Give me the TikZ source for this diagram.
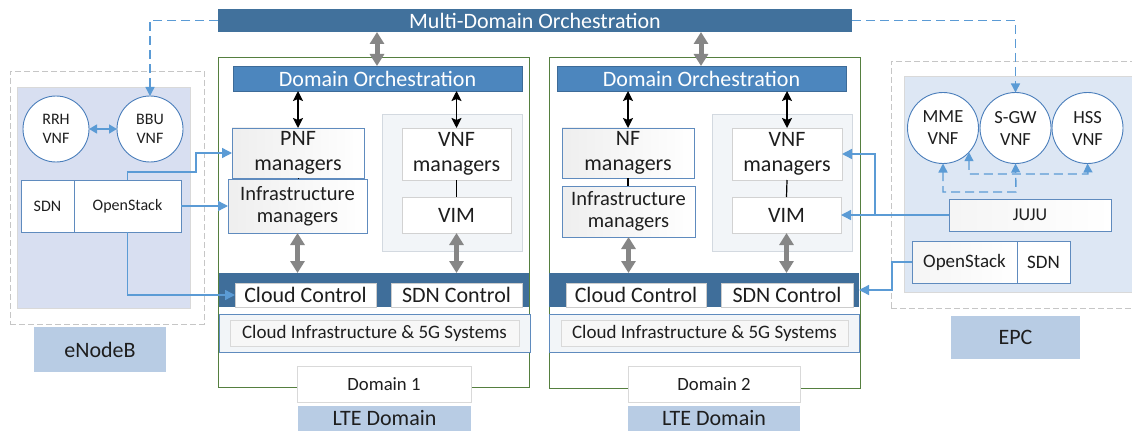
\documentclass[tikz,border=0pt]{standalone}
\usepackage{fontspec}
\setmainfont{Carlito}
\usetikzlibrary{arrows.meta}
\definecolor{mdark}{HTML}{41719C}
\definecolor{orchc}{HTML}{4C86BE}
\definecolor{ctrlc}{HTML}{3F6E9A}
\definecolor{lblc}{HTML}{B8CCE4}
\definecolor{enbc}{HTML}{D8DFF1}
\definecolor{epcc}{HTML}{DDE7F4}
\definecolor{lblue}{HTML}{5B9BD5}
\definecolor{bbord}{HTML}{5F8BBE}
\definecolor{panelc}{HTML}{F2F5F8}
\definecolor{panelb}{HTML}{D3D9E0}
\definecolor{greenb}{HTML}{557F3F}
\definecolor{circb}{HTML}{4A7EBB}
\definecolor{txt}{HTML}{1E1E1E}
\newcommand{\fs}[2]{\fontsize{#1}{#2}\selectfont}
\begin{document}
\begin{tikzpicture}[x=1pt,y=-1pt,
  base/.style={inner sep=0pt,outer sep=0pt,align=center,text=txt},
  bluebar/.style={base,fill=mdark,text=white,font=\fs{22}{25}},
  orchbar/.style={base,fill=orchc,draw=orchc!80!black,line width=0.4pt,text=white,font=\fs{22}{25}},
  ctrlbar/.style={base,fill=ctrlc},
  mgr/.style={base,draw=bbord,line width=0.9pt,left color=gray!13,right color=white,font=\fs{22}{25}},
  wbox/.style={base,draw=gray!35,line width=0.8pt,fill=white,font=\fs{22}{25}},
  panelbox/.style={base,draw=panelb,line width=0.8pt,fill=panelc},
  lblbox/.style={base,fill=lblc,font=\fs{22}{25}},
  greenbox/.style={base,draw=greenb,line width=0.8pt},
  vnfc/.style={base,circle,draw=circb,line width=0.9pt,fill=white},
  stackbox/.style={base,draw=bbord,line width=0.9pt,fill=white},
  grayarr/.style={draw=gray!95,line width=5pt,{Triangle[width=14pt,length=12pt]}-{Triangle[width=14pt,length=12pt]}},
  blackarr/.style={draw=black,line width=1.6pt,{Stealth[width=10pt,length=10pt,inset=2pt]}-{Stealth[width=10pt,length=10pt,inset=2pt]}},
  blueconn/.style={draw=lblue,line width=1.4pt,-{Triangle[width=10pt,length=10pt]}},
  dashconn/.style={draw=lblue,line width=1.4pt,dash pattern=on 9pt off 5pt},
  dashtip/.style={-{Triangle[width=9pt,length=9pt]}},
  greydash/.style={draw=gray!45,line width=0.9pt,dash pattern=on 6pt off 3pt}
]
\clip (0,0) rectangle (1132,433);
\fill[white] (0,0) rectangle (1132,433);

% ---------- backgrounds ----------
\node[base,greydash,minimum width=194pt,minimum height=253pt] (enbout) at (107,197.5) {};
\node[base,fill=enbc,draw=gray!30,line width=0.6pt,minimum width=173pt,minimum height=221pt] (enbin) at (103.5,197.5) {};
\node[base,greydash,minimum width=260pt,minimum height=247pt] (epcout) at (1021,184.5) {};
\node[base,fill=epcc,draw=gray!30,line width=0.6pt,minimum width=240pt,minimum height=216pt] (epcin) at (1024,184) {};
\node[greenbox,minimum width=311pt,minimum height=330pt] (dom1) at (373.5,222) {};
\node[greenbox,minimum width=311pt,minimum height=331pt] (dom2) at (704.5,222.5) {};
\node[panelbox,minimum width=140pt,minimum height=137pt] (panel1) at (452,182.5) {};
\node[panelbox,minimum width=140pt,minimum height=137pt] (panel2) at (782,182.5) {};

% ---------- top bar ----------
\node[bluebar,minimum width=634pt,minimum height=23pt] (multi) at (535,20.5) {Multi-Domain Orchestration};

% ---------- eNodeB ----------
\node[vnfc,minimum size=66pt,font=\fs{16}{19}] (rrh) at (56,129) {RRH\\VNF};
\node[vnfc,minimum size=66pt,font=\fs{16}{19}] (bbu) at (150,129) {BBU\\VNF};
\node[stackbox,minimum width=53pt,minimum height=52pt,font=\fs{16}{19}] (sdnE) at (47.5,206) {SDN};
\node[stackbox,minimum width=107pt,minimum height=52pt,font=\fs{16}{19}] (osE) at (127.5,206) {OpenStack};
\node[lblbox,minimum width=132pt,minimum height=45pt] (enblbl) at (100,349.5) {eNodeB};

% ---------- Domain 1 ----------
\node[orchbar,minimum width=289pt,minimum height=25pt] (orch1) at (377.5,78.5) {Domain Orchestration};
\node[mgr,minimum width=132pt,minimum height=50pt] (pnf) at (298,153) {PNF\\managers};
\node[mgr,minimum width=139pt,minimum height=54pt,font=\fs{20.5}{22}] (infra1) at (297.5,206) {Infrastructure\\managers};
\node[wbox,minimum width=109pt,minimum height=52pt] (vnf1) at (456.5,154) {VNF\\managers};
\node[wbox,minimum width=109pt,minimum height=36pt] (vim1) at (456.5,215) {VIM};
\node[ctrlbar,minimum width=310pt,minimum height=34pt] (ctrl1) at (374,290) {};
\node[wbox,draw=gray!40,minimum width=141pt,minimum height=24pt] (cc1) at (305.5,295) {Cloud Control};
\node[wbox,draw=gray!40,minimum width=131pt,minimum height=24pt] (sc1) at (456.5,295) {SDN Control};
\node[base,draw=bbord,line width=0.8pt,fill=panelc,minimum width=311pt,minimum height=38pt] (ciout1) at (374.5,333) {};
\node[base,draw=gray!30,line width=0.8pt,fill=gray!6,minimum width=289pt,minimum height=26pt,font=\fs{19}{22}] (ciin1) at (374.5,333) {Cloud Infrastructure \& 5G Systems};
\node[wbox,draw=gray!30,minimum width=174pt,minimum height=36pt,font=\fs{18.7}{22}] (d1lbl) at (384,384) {Domain 1};
\node[lblbox,minimum width=173pt,minimum height=25pt] (lte1) at (384.5,418.5) {LTE Domain};

% ---------- Domain 2 ----------
\node[orchbar,minimum width=289pt,minimum height=25pt] (orch2) at (701.5,78.5) {Domain Orchestration};
\node[mgr,minimum width=132pt,minimum height=50pt] (nf) at (628,153) {NF\\managers};
\node[mgr,minimum width=133pt,minimum height=51pt,font=\fs{20.5}{22}] (infra2) at (628.5,211.5) {Infrastructure\\managers};
\node[wbox,minimum width=110pt,minimum height=52pt] (vnf2) at (787,154) {VNF\\managers};
\node[wbox,minimum width=109pt,minimum height=36pt] (vim2) at (786.5,215) {VIM};
\node[ctrlbar,minimum width=310pt,minimum height=34pt] (ctrl2) at (704,290) {};
\node[wbox,draw=gray!40,minimum width=140pt,minimum height=24pt] (cc2) at (636,295) {Cloud Control};
\node[wbox,draw=gray!40,minimum width=132pt,minimum height=24pt] (sc2) at (787,295) {SDN Control};
\node[base,draw=bbord,line width=0.8pt,fill=panelc,minimum width=310pt,minimum height=38pt] (ciout2) at (704,333) {};
\node[base,draw=gray!30,line width=0.8pt,fill=gray!6,minimum width=287pt,minimum height=26pt,font=\fs{19}{22}] (ciin2) at (704.5,333) {Cloud Infrastructure \& 5G Systems};
\node[wbox,draw=gray!30,minimum width=172pt,minimum height=36pt,font=\fs{18.7}{22}] (d2lbl) at (714,384) {Domain 2};
\node[lblbox,minimum width=172pt,minimum height=25pt] (lte2) at (714,418.5) {LTE Domain};

% ---------- EPC ----------
\node[vnfc,minimum size=71pt,font=\fs{18.5}{22}] (mme) at (943,128) {MME\\VNF};
\node[vnfc,minimum size=71pt,font=\fs{18.5}{22}] (sgw) at (1015.5,128) {S-GW\\VNF};
\node[vnfc,minimum size=71pt,font=\fs{18.5}{22}] (hss) at (1087.5,128) {HSS\\VNF};
\node[mgr,left color=gray!8,minimum width=162pt,minimum height=32pt,font=\fs{18}{21}] (juju) at (1030,215) {JUJU};
\node[mgr,left color=gray!8,minimum width=105pt,minimum height=42pt,font=\fs{19}{22}] (osP) at (964.5,262) {OpenStack};
\node[stackbox,minimum width=53pt,minimum height=42pt,font=\fs{19}{22}] (sdnP) at (1043.5,262) {SDN};
\node[lblbox,minimum width=129pt,minimum height=43pt] (epclbl) at (1015.5,337.5) {EPC};

% ---------- gray double arrows ----------
\coordinate (g1) at (377,0);
\coordinate (g2) at (701,0);
\draw[grayarr] (g1 |- multi.south) -- (g1 |- orch1.north);
\draw[grayarr] (g2 |- multi.south) -- (g2 |- orch2.north);
\draw[grayarr] (infra1.south) -- (infra1.south |- ctrl1.north);
\draw[grayarr] (vim1.south) -- (vim1.south |- ctrl1.north);
\draw[grayarr] (infra2.south) -- (infra2.south |- ctrl2.north);
\draw[grayarr] (vim2.south) -- (vim2.south |- ctrl2.north);

% ---------- black arrows / lines ----------
\draw[blackarr] (pnf.north |- orch1.south) -- (pnf.north);
\draw[blackarr] (vnf1.north |- orch1.south) -- (vnf1.north);
\draw[blackarr] (nf.north |- orch2.south) -- (nf.north);
\draw[blackarr] (vnf2.north |- orch2.south) -- (vnf2.north);
\draw[black,line width=1.2pt] (vnf1.south) -- (vim1.north);
\draw[black,line width=1.2pt] (vnf2.south) -- (vim2.north);
\draw[black,line width=1.2pt] (nf.south) -- (nf.south |- infra2.north);
\draw[black,line width=1pt] (pnf.south) -- (pnf.south |- infra1.north);

% ---------- blue connectors ----------
\draw[draw=lblue,line width=1.4pt,{Triangle[width=9pt,length=8pt]}-{Triangle[width=9pt,length=8pt]}] (rrh.east) -- (bbu.west);
\coordinate (j1) at (196,172);
\draw[blueconn] (osE.north) |- (j1) |- (pnf.west);
\draw[blueconn] (osE.east) -- (infra1.west);
\draw[blueconn] (osE.south) |- (cc1.west);
\draw[blueconn] (juju.west) -- (vim2.east);
\coordinate (j2) at (875,215);
\draw[blueconn] (j2) |- (vnf2.east);
\coordinate (j3) at (892,262);
\draw[blueconn] (osP.west) -- (j3) |- (ctrl2.east);

% ---------- dashed connectors ----------
\draw[dashconn,dashtip] (multi.west) -| (bbu.north);
\draw[dashconn,dashtip] (multi.east) -| (sgw.north);
\coordinate (d2) at (1016,192);
\coordinate (d3) at (1088,174);
\draw[dashconn,{Triangle[width=9pt,length=9pt]}-{Triangle[width=9pt,length=9pt]}] (mme.south) |- (d2) -- (sgw.south);
\draw[dashconn,{Triangle[width=9pt,length=9pt]}-{Triangle[width=9pt,length=9pt]}] (mme.-43) |- (d3) -- (hss.south);
\end{tikzpicture}
\end{document}
